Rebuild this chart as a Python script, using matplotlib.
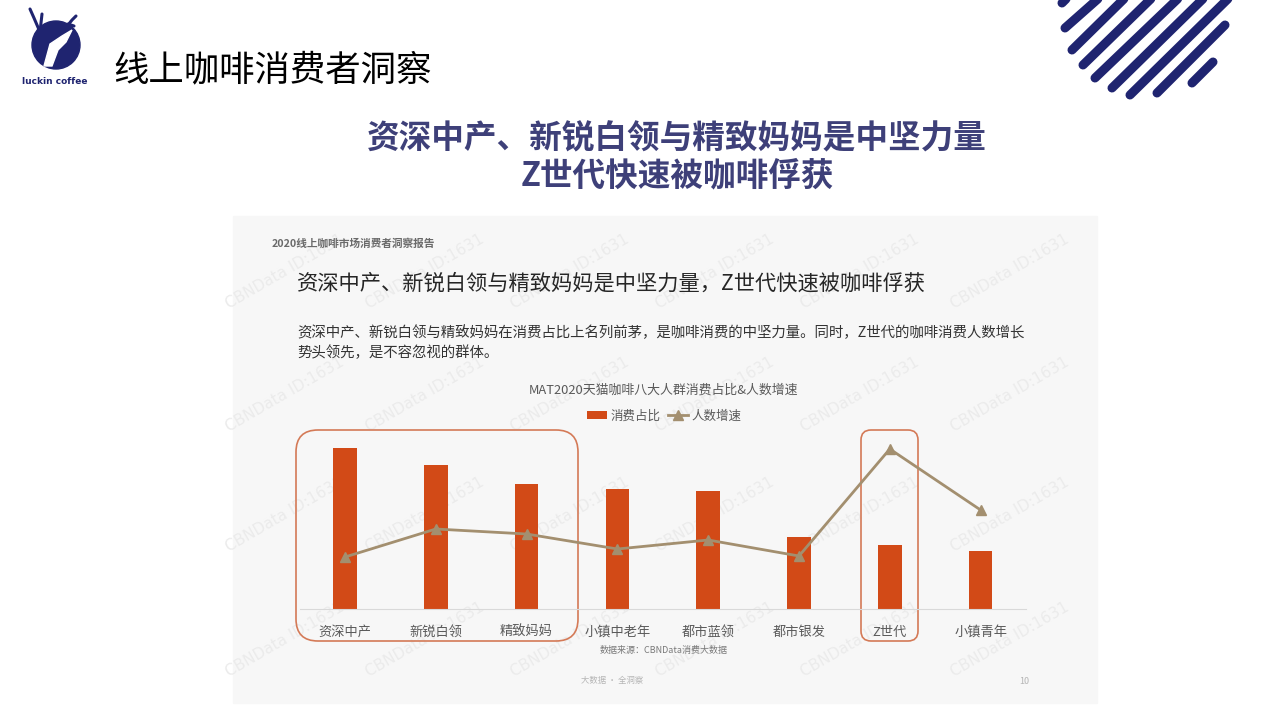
import matplotlib
matplotlib.use("Agg")
import matplotlib.pyplot as plt
from matplotlib.patches import FancyBboxPatch, Rectangle, Circle, Polygon

plt.rcParams['font.family'] = ['Noto Sans CJK SC', 'DejaVu Sans']

# data (relative units)
categories = ['资深中产', '新锐白领', '精致妈妈', '小镇中老年', '都市蓝领', '都市银发', 'Z世代', '小镇青年']
share = [161, 144, 125, 120, 118, 72, 64, 58]        # 消费占比
growth = [52, 80, 75, 60, 69, 53, 160, 99]          # 人数增速

navy = '#1f2470'
bar_c = '#d24a17'
line_c = '#a38f6f'
box_c = '#d47a57'

fig = plt.figure(figsize=(12.8, 7.2), dpi=100)
fig.patch.set_facecolor('white')

# overlay in pixel coords for the slide decoration
bg = fig.add_axes([0, 0, 1, 1])
bg.set_xlim(0, 1280)
bg.set_ylim(720, 0)
bg.axis('off')

# logo
bg.add_patch(Circle((56, 45), 24, color=navy))
bg.add_patch(Polygon([[44, 66], [50, 44], [62, 36], [72, 30], [66, 42], [58, 50], [52, 66]],
                     closed=True, color='white'))
bg.plot([40, 34, 30], [32, 18, 9], color=navy, lw=2.2, solid_capstyle='round')
bg.plot([40, 42], [32, 14], color=navy, lw=2.2, solid_capstyle='round')
bg.plot([64, 72, 76], [30, 20, 16], color=navy, lw=2.2, solid_capstyle='round')
bg.plot([68, 74], [24, 26], color=navy, lw=2.2, solid_capstyle='round')
bg.text(55, 82, 'luckin coffee', ha='center', va='center', fontsize=6.5,
        color=navy, fontweight='bold', family=['DejaVu Sans'])

bg.text(113, 70, '线上咖啡消费者洞察', ha='left', va='center', fontsize=25.5, color='black')

# stripes top right (run past the top edge, clipped)
stripes = [(1062, 3, 1075, -10), (1065, 28, 1108, -10), (1072, 50, 1133, -10), (1083, 65, 1160, -10),
           (1095, 78, 1187, -10), (1112, 88, 1212, -10), (1130, 95, 1237, -10), (1157, 93, 1225, 25),
           (1192, 83, 1213, 62)]
for x0, y0, x1, y1 in stripes:
    bg.plot([x0, x1], [y0, y1], color=navy, lw=6.5, solid_capstyle='round')

bg.text(677, 139, '资深中产、新锐白领与精致妈妈是中坚力量', ha='center', va='center',
        fontsize=23.5, fontweight='bold', color='#3e4079')
bg.text(677, 176, 'Z世代快速被咖啡俘获', ha='center', va='center',
        fontsize=23.5, fontweight='bold', color='#3e4079')

# embedded report panel
bg.add_patch(Rectangle((233, 216), 864, 487, color='#f7f7f7', zorder=0))

# watermarks
for wx in [285, 425, 570, 715, 860, 1010]:
    for wy in [272, 395, 515, 640]:
        bg.text(wx, wy, 'CBNData ID:1631', rotation=30, ha='center', va='center',
                fontsize=11, color='#ebebeb', family=['DejaVu Sans'], zorder=1)

bg.text(272, 244, '2020线上咖啡市场消费者洞察报告', ha='left', va='center',
        fontsize=7.7, fontweight='bold', color='#6a6a6a', zorder=2)
bg.text(297, 284, '资深中产、新锐白领与精致妈妈是中坚力量，Z世代快速被咖啡俘获', ha='left',
        va='center', fontsize=15.3, color='#262626', zorder=2)
bg.text(297, 333, '资深中产、新锐白领与精致妈妈在消费占比上名列前茅，是咖啡消费的中坚力量。同时，Z世代的咖啡消费人数增长',
        ha='left', va='center', fontsize=10.4, color='#333333', zorder=2)
bg.text(297, 353, '势头领先，是不容忽视的群体。', ha='left', va='center',
        fontsize=10.4, color='#333333', zorder=2)
bg.text(664, 390, 'MAT2020天猫咖啡八大人群消费占比&人数增速', ha='center', va='center',
        fontsize=9.3, color='#595959', zorder=2)
bg.text(664, 651, '数据来源：CBNData消费大数据', ha='center', va='center',
        fontsize=6.5, color='#7a7a7a', zorder=2)
bg.text(612, 681, '大数据 · 全洞察', ha='center', va='center',
        fontsize=6, color='#b5b5b5', zorder=2)
bg.text(1024, 681, '10', ha='center', va='center', fontsize=6.5, color='#b5b5b5', zorder=2)

# highlight boxes
bg.add_patch(FancyBboxPatch((296 + 22, 430 + 22), 282 - 44, 211 - 44,
                            boxstyle='round,pad=22', fill=False, ec=box_c, lw=1.2, zorder=3))
bg.add_patch(FancyBboxPatch((861 + 10, 430 + 10), 57 - 20, 211 - 20,
                            boxstyle='round,pad=10', fill=False, ec=box_c, lw=1.2, zorder=3))

# chart axes: categories at 345 + 90.8*i px, baseline at 609 px
ax = fig.add_axes([299.6 / 1280, 1 - 609 / 720, 726.4 / 1280, 179 / 720])
ax.patch.set_alpha(0)
x = list(range(len(categories)))
bars = ax.bar(x, share, width=0.26, color=bar_c, label='消费占比', zorder=2)
line, = ax.plot(x, growth, color=line_c, lw=2, marker='^', markersize=7, label='人数增速', zorder=3)
ax.set_xlim(-0.5, 7.5)
ax.set_ylim(0, 179)
ax.set_yticks([])
ax.set_xticks(x)
ax.set_xticklabels(categories, fontsize=9.5, color='#595959')
ax.tick_params(axis='x', length=0, pad=12)
for s in ['top', 'right', 'left']:
    ax.spines[s].set_visible(False)
ax.spines['bottom'].set_color('#d9d9d9')

leg = fig.legend([bars, line], ['消费占比', '人数增速'], loc='center',
                 bbox_to_anchor=(664 / 1280, 1 - 416 / 720), ncol=2, frameon=False,
                 fontsize=9, handlelength=1.6, handletextpad=0.3, columnspacing=0.6)
for t in leg.get_texts():
    t.set_color('#595959')

fig.savefig('out.png', dpi=100)
